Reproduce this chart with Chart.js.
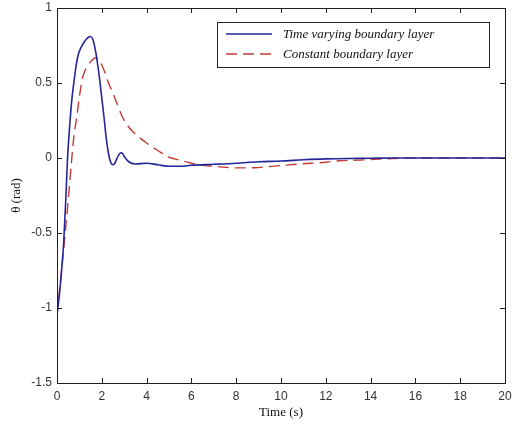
<!DOCTYPE html>
<html lang="en">

<head>
    <meta charset="UTF-8">
    <title>Theta response</title>
    <script src="https://cdn.jsdelivr.net/npm/chart.js"></script>
    <style>
        body {
            margin: 0;
            background: #fff;
        }

        #wrap {
            width: 512px;
            height: 425px;
        }
    </style>
</head>

<body>
    <div id="wrap"><canvas id="chart" width="512" height="425"></canvas></div>

    <script>
        // Time varying boundary layer
        const timeVarying = [0, 0.1, 0.2, 0.3, 0.4, 0.47, 0.55, 0.65, 0.75, 0.85, 0.95, 1.05, 1.2, 1.3, 1.4, 1.5,
            1.6, 1.7, 1.8, 1.9, 2.0, 2.1, 2.2, 2.3, 2.4, 2.5, 2.6, 2.7, 2.8, 2.9, 3.0, 3.2, 3.5, 4.0, 4.5, 5.0,
            5.5, 6.0, 7.0, 8.0, 9.0, 10, 11, 12, 13, 14, 15, 16, 17, 18, 19, 20];
        const thetaVarying = [-1.04, -0.92, -0.76, -0.56, -0.25, 0, 0.18, 0.37, 0.5, 0.61, 0.69, 0.73, 0.77, 0.79, 0.805, 0.81,
            0.79, 0.73, 0.64, 0.53, 0.4, 0.27, 0.13, 0.03, -0.03, -0.045, -0.03, 0.005, 0.03, 0.035, 0.01, -0.025, -0.04, -0.035, -0.045, -0.055,
            -0.055, -0.048, -0.042, -0.035, -0.025, -0.02, -0.012, -0.006, -0.003, -0.002, 0, 0, 0, 0, 0, 0];

        // Constant boundary layer
        const timeConstant = [0, 0.1, 0.28, 0.46, 0.65, 0.76, 0.88, 1.0, 1.17, 1.4, 1.55, 1.7, 1.85, 2.0, 2.14, 2.3, 2.5,
            2.66, 2.9, 3.18, 3.5, 4.0, 4.5, 5.0, 5.5, 6.0, 6.5, 7.0, 7.5, 8.0, 8.8, 9.4, 10, 10.85, 12, 12.6, 13.5,
            14.4, 15.8, 17, 18, 20];
        const thetaConstant = [-1.05, -0.9, -0.63, -0.35, -0.02, 0.15, 0.27, 0.41, 0.55, 0.62, 0.65, 0.667, 0.66, 0.62, 0.57, 0.5, 0.43,
            0.37, 0.28, 0.21, 0.16, 0.1, 0.05, 0.005, -0.015, -0.035, -0.048, -0.055, -0.062, -0.066, -0.065, -0.058, -0.05, -0.04, -0.028, -0.018, -0.014,
            -0.007, 0, 0, 0, 0];

        const xTicks = [0, 2, 4, 6, 8, 10, 12, 14, 16, 18, 20];
        const yTicks = [-1.5, -1, -0.5, 0, 0.5, 1];
        const yTickLabels = ['-1.5', '-1', '-0.5', '0', '0.5', '1'];

        const seriesNames = ['Time varying boundary layer', 'Constant boundary layer'];

        const toPoints = (xs, ys) => xs.map((x, i) => ({ x: x, y: ys[i] }));

        const tickFont = { family: "'Liberation Sans', Arial, sans-serif", size: 12 };
        const titleFont = { family: "'Liberation Serif', 'Times New Roman', serif", size: 13 };

        // axes box with inward ticks on all four sides, MATLAB style
        const boxPlugin = {
            id: 'box',
            afterDraw(chart) {
                const { ctx, chartArea: a, scales } = chart;
                const len = 5;
                ctx.save();
                ctx.strokeStyle = '#1e1e1e';
                ctx.lineWidth = 1;
                ctx.beginPath();
                scales.x.ticks.forEach(t => {
                    const px = Math.round(scales.x.getPixelForValue(t.value)) + 0.5;
                    ctx.moveTo(px, a.bottom); ctx.lineTo(px, a.bottom - len);
                    ctx.moveTo(px, a.top); ctx.lineTo(px, a.top + len);
                });
                scales.y.ticks.forEach(t => {
                    const py = Math.round(scales.y.getPixelForValue(t.value)) + 0.5;
                    ctx.moveTo(a.left, py); ctx.lineTo(a.left + len, py);
                    ctx.moveTo(a.right, py); ctx.lineTo(a.right - len, py);
                });
                ctx.stroke();
                ctx.strokeRect(Math.round(a.left) + 0.5, Math.round(a.top) + 0.5,
                    Math.round(a.right - a.left), Math.round(a.bottom - a.top));
                ctx.restore();
            }
        };

        // legend box in the upper right of the plot
        const legendPlugin = {
            id: 'boxLegend',
            afterDraw(chart) {
                const { ctx } = chart;
                const bx = 217, by = 22, bw = 272, bh = 45;
                ctx.save();
                ctx.fillStyle = '#fff';
                ctx.fillRect(bx, by, bw, bh);
                ctx.strokeStyle = '#222';
                ctx.lineWidth = 1;
                ctx.strokeRect(bx + 0.5, by + 0.5, bw, bh);
                chart.data.datasets.forEach((ds, i) => {
                    const y = by + 12 + i * 20;
                    ctx.strokeStyle = ds.borderColor;
                    ctx.lineWidth = ds.borderWidth;
                    ctx.setLineDash(ds.borderDash || []);
                    ctx.beginPath();
                    ctx.moveTo(bx + 9, y);
                    ctx.lineTo(bx + 55, y);
                    ctx.stroke();
                    ctx.setLineDash([]);
                    ctx.fillStyle = '#111';
                    ctx.font = "italic 13px 'Liberation Serif', 'Times New Roman', serif";
                    ctx.textBaseline = 'middle';
                    ctx.fillText(ds.label, bx + 66, y + 1);
                });
                ctx.restore();
            }
        };

        new Chart(document.getElementById('chart'), {
            type: 'line',
            data: {
                datasets: [{
                    label: seriesNames[0],
                    data: toPoints(timeVarying, thetaVarying),
                    borderColor: '#25259a',
                    borderWidth: 1.6,
                    pointRadius: 0,
                    cubicInterpolationMode: 'monotone'
                }, {
                    label: seriesNames[1],
                    data: toPoints(timeConstant, thetaConstant),
                    borderColor: '#c43a36',
                    borderWidth: 1.4,
                    borderDash: [11, 6],
                    pointRadius: 0,
                    cubicInterpolationMode: 'monotone'
                }]
            },
            options: {
                responsive: false,
                animation: false,
                layout: { padding: { top: 8, right: 7, left: 0, bottom: 0 } },
                plugins: {
                    legend: { display: false },
                    tooltip: { enabled: false }
                },
                scales: {
                    x: {
                        type: 'linear',
                        min: 0,
                        max: 20,
                        afterBuildTicks: s => { s.ticks = xTicks.map(v => ({ value: v })); },
                        afterFit: s => { s.height = 42; s.paddingLeft = 0; s.paddingRight = 0; },
                        grid: { display: false, drawTicks: false },
                        border: { display: false },
                        ticks: { font: tickFont, color: '#333', padding: 6, maxRotation: 0 },
                        title: { display: true, text: 'Time (s)', font: titleFont, color: '#111', padding: { top: 0, bottom: 5 } }
                    },
                    y: {
                        min: -1.5,
                        max: 1,
                        afterBuildTicks: s => { s.ticks = yTicks.map(v => ({ value: v })); },
                        afterFit: s => { s.width = 57; s.paddingTop = 0; s.paddingBottom = 0; },
                        grid: { display: false, drawTicks: false },
                        border: { display: false },
                        ticks: {
                            font: tickFont, color: '#333', padding: 5,
                            callback: (v, i) => yTickLabels[i]
                        },
                        title: { display: true, text: 'θ (rad)', font: titleFont, color: '#111', padding: { top: 9, bottom: 0 } }
                    }
                }
            },
            plugins: [boxPlugin, legendPlugin]
        });
    </script>
</body>

</html>
